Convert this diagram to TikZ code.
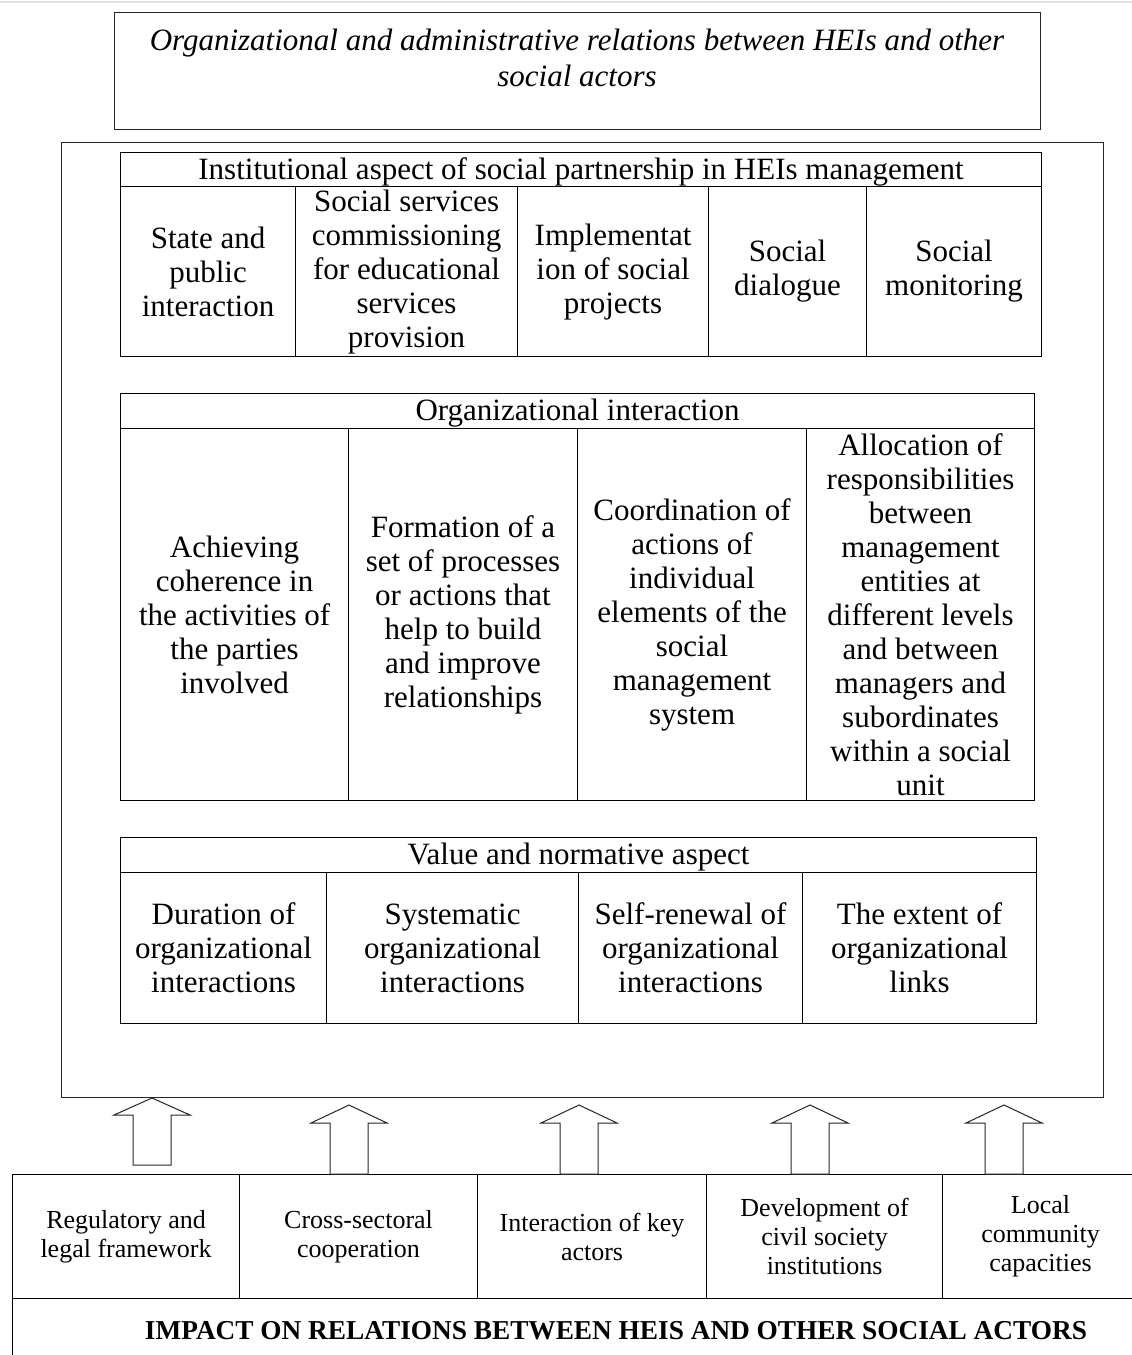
\documentclass[tikz,border=0pt]{standalone}
\usepackage{fontspec}
\setmainfont{Liberation Serif}
\tikzset{
  cell/.style={draw=black, line width=1.1pt, inner sep=0pt, anchor=north west, align=center,
    font=\fontsize{31}{34}\selectfont},
  headcell/.style={cell, text depth=2pt},
  smallcell/.style={cell, font=\fontsize{26}{29}\selectfont},
  frame/.style={draw=black!85, line width=1.3pt, inner sep=0pt, anchor=north west},
  txt/.style={inner sep=0pt, align=center},
  blockarrow/.style={draw=black!85, line width=1pt, fill=white, line join=miter}
}
% name, x1, y1, x2, y2, style, text
\newcommand\mycell[7]{\node[#6, minimum width={#4-#2}, minimum height={#5-#3}] (#1) at (#2,#3) {#7};}
% name, centre x, apex y, head base y, bottom y
\newcommand\myarrow[5]{%
  \coordinate (#1) at (#2,#3);
  \draw[blockarrow] ([xshift=-19pt]#1 |- 0,#5) -- ([xshift=-19pt]#1 |- 0,#4) -- ([xshift=-38pt]#1 |- 0,#4)
     -- (#1) -- ([xshift=38pt]#1 |- 0,#4) -- ([xshift=19pt]#1 |- 0,#4) -- ([xshift=19pt]#1 |- 0,#5) -- cycle;}
\begin{document}
\begin{tikzpicture}[x=1pt, y=-1pt]
\useasboundingbox (0,0) rectangle (1132,1355);
\fill[white] (0,0) rectangle (1132,1355);
\draw[black!12, line width=2pt] (0,1.5) -- (1132,1.5);

% title
\mycell{titlebox}{114}{12}{1040}{129}{frame}{}
\node[txt, font=\fontsize{31}{36}\selectfont\itshape] (title) at (577,58)
  {Organizational and administrative relations between HEIs and other\\social actors};

% outer frame
\mycell{outer}{61}{142}{1103}{1097}{frame}{}

% institutional aspect
\mycell{insth}{120}{152}{1041}{186}{headcell}{Institutional aspect of social partnership in HEIs management}
\mycell{i1}{120}{186}{295}{356}{cell}{State and\\public\\interaction}
\mycell{i2}{295}{186}{517}{356}{cell}{Social services\\commissioning\\for educational\\services\\provision}
\mycell{i3}{517}{186}{708}{356}{cell}{Implementat\\ion of social\\projects}
\mycell{i4}{708}{186}{866}{356}{cell}{Social\\dialogue}
\mycell{i5}{866}{186}{1041}{356}{cell}{Social\\monitoring}

% organizational interaction
\mycell{orgh}{120}{393}{1034}{428}{headcell}{Organizational interaction}
\mycell{o1}{120}{428}{348}{800}{cell}{Achieving\\coherence in\\the activities of\\the parties\\involved}
\mycell{o2}{348}{428}{577}{800}{cell}{Formation of a\\set of processes\\or actions that\\help to build\\and improve\\relationships}
\mycell{o3}{577}{428}{806}{800}{cell}{Coordination of\\actions of\\individual\\elements of the\\social\\management\\system}
\mycell{o4}{806}{428}{1034}{800}{cell}{Allocation of\\responsibilities\\between\\management\\entities at\\different levels\\and between\\managers and\\subordinates\\within a social\\unit}

% value and normative aspect
\mycell{valh}{120}{837}{1036}{872}{headcell}{Value and normative aspect}
\mycell{v1}{120}{872}{326}{1023}{cell}{Duration of\\organizational\\interactions}
\mycell{v2}{326}{872}{578}{1023}{cell}{Systematic\\organizational\\interactions}
\mycell{v3}{578}{872}{802}{1023}{cell}{Self-renewal of\\organizational\\interactions}
\mycell{v4}{802}{872}{1036}{1023}{cell}{The extent of\\organizational\\links}

% bottom factors
\mycell{b1}{12}{1174}{239}{1298}{smallcell}{Regulatory and\\legal framework}
\mycell{b2}{239}{1174}{477}{1298}{smallcell}{Cross-sectoral\\cooperation}
\mycell{b3}{477}{1174}{706}{1298}{smallcell}{Interaction of key\\actors}
\mycell{b4}{706}{1174}{942}{1298}{smallcell}{Development of\\civil society\\institutions}
\mycell{b5}{942}{1174}{1138}{1298}{smallcell}{Local\\community\\capacities}
\mycell{impact}{12}{1298}{1138}{1362}{smallcell}{}
\node[txt, font=\fontsize{27.3}{30}\selectfont\bfseries] (impacttxt) at (616,1331)
  {IMPACT ON RELATIONS BETWEEN HEIS AND OTHER SOCIAL ACTORS};

% block arrows
\myarrow{a1}{152}{1098}{1115}{1165}
\myarrow{a2}{349}{1105}{1123}{1174}
\myarrow{a3}{579}{1105}{1123}{1174}
\myarrow{a4}{810}{1105}{1123}{1174}
\myarrow{a5}{1004}{1105}{1123}{1174}
\end{tikzpicture}
\end{document}
